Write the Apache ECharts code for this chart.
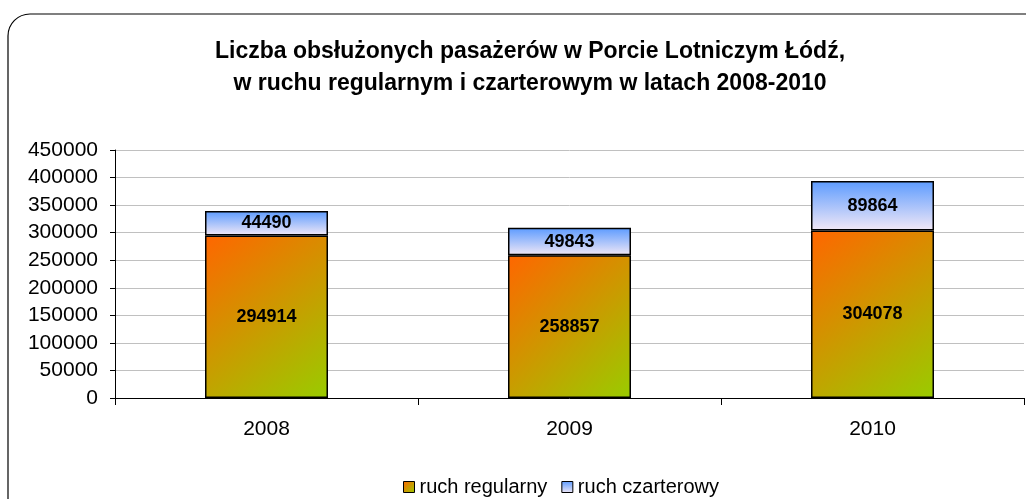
<!DOCTYPE html>
<html>
<head>
<meta charset="utf-8">
<script src="https://cdn.jsdelivr.net/npm/echarts@6/dist/echarts.min.js"></script>
<style>
  html, body { margin: 0; padding: 0; background: #fff; }
  #chart { width: 1026px; height: 499px; }
</style>
</head>
<body>
<div id="chart"></div>
<script>
const years = ["2008", "2009", "2010"];
// ruch regularny
const regular = [294914, 258857, 304078];
// ruch czarterowy
const charter = [44490, 49843, 89864];
const yTicks = [0, 50000, 100000, 150000, 200000, 250000, 300000, 350000, 400000, 450000];

const regularColor = new echarts.graphic.LinearGradient(0, 0, 1, 1, [
  { offset: 0, color: "#FF6600" },
  { offset: 1, color: "#99CC00" },
]);
const charterColor = new echarts.graphic.LinearGradient(0, 0, 0, 1, [
  { offset: 0, color: "#5C9BFF" },
  { offset: 1, color: "#F2E8F6" },
]);

const font = "Liberation Sans, Arial";

const labelStyle = {
  show: true,
  position: "inside",
  color: "#000",
  fontFamily: font,
  fontWeight: "bold",
  fontSize: 18,
};

const chart = echarts.init(document.getElementById("chart"));
chart.setOption({
  animation: false,
  graphic: [
    {
      type: "rect",
      shape: { x: 8, y: 14, width: 1100, height: 600, r: 22 },
      style: { fill: "none", stroke: "#000", lineWidth: 1.2 },
      silent: true,
    },
  ],
  title: {
    text: "Liczba obsłużonych pasażerów w Porcie Lotniczym Łódź,\nw ruchu regularnym i czarterowym w latach 2008-2010",
    left: 525,
    top: 31,
    textAlign: "center",
    textStyle: {
      fontFamily: font,
      fontWeight: "bold",
      fontSize: 23,
      lineHeight: 32,
      color: "#000",
    },
  },
  legend: {
    top: 472,
    left: 398,
    itemWidth: 11,
    itemHeight: 11,
    itemGap: 14,
    icon: "rect",
    textStyle: { fontFamily: font, fontSize: 20, color: "#000" },
    data: [
      { name: "ruch regularny", itemStyle: { borderColor: "#000", borderWidth: 1 } },
      { name: "ruch czarterowy", itemStyle: { borderColor: "#000", borderWidth: 1 } },
    ],
  },
  grid: { left: 115, right: 2, top: 150, bottom: 101, containLabel: false },
  xAxis: {
    type: "category",
    data: years,
    axisLine: { lineStyle: { color: "#000" } },
    axisTick: { show: true, length: 7, lineStyle: { color: "#000" } },
    axisLabel: { fontFamily: font, fontSize: 21, color: "#000", margin: 21 },
  },
  yAxis: {
    type: "value",
    min: yTicks[0],
    max: yTicks[yTicks.length - 1],
    interval: 50000,
    axisLine: { show: true, lineStyle: { color: "#000" } },
    axisTick: { show: true, length: 5, lineStyle: { color: "#000" } },
    axisLabel: {
      fontFamily: font,
      fontSize: 21,
      color: "#000",
      margin: 17,
      formatter: (v) => String(v),
    },
    splitLine: { lineStyle: { color: "#C0C0C0" } },
  },
  series: [
    {
      name: "ruch regularny",
      type: "bar",
      stack: "total",
      data: regular,
      barWidth: 123,
      itemStyle: { color: regularColor, borderColor: "#000", borderWidth: 1.5 },
      label: labelStyle,
    },
    {
      name: "ruch czarterowy",
      type: "bar",
      stack: "total",
      data: charter,
      barWidth: 123,
      itemStyle: { color: charterColor, borderColor: "#000", borderWidth: 1.5 },
      label: labelStyle,
    },
  ],
});
</script>
</body>
</html>
